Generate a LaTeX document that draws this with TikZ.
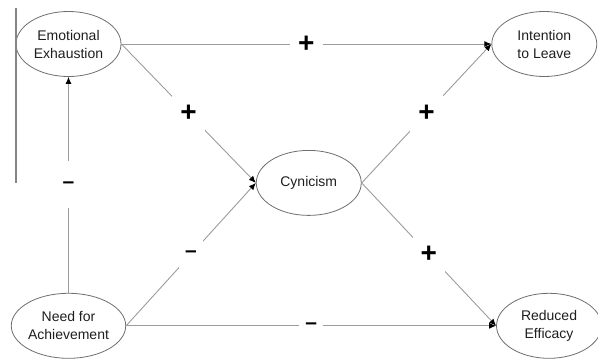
\documentclass[tikz,border=0pt]{standalone}
\usepackage{fontspec}
\setmainfont{Liberation Sans}
\usetikzlibrary{arrows.meta,positioning,calc,shapes.geometric}
\definecolor{LineGray}{HTML}{9C9C9C}
\definecolor{RimGray}{HTML}{6E6E6E}
\definecolor{BarGray}{HTML}{858585}
\definecolor{InkDark}{HTML}{1E1E1E}

\begin{document}
\begin{tikzpicture}[
  x=1pt,y=-1pt,
  node distance=216pt and 370pt,
  every node/.style={font=\fontsize{14}{18}\selectfont,align=center,text=InkDark},
  construct/.style={ellipse,draw=RimGray,line width=0.8pt,minimum width=105pt,minimum height=65pt,inner sep=0pt},
  link/.style={-{Latex[length=7pt,width=6pt,color=black]},draw=LineGray,line width=0.9pt},
  possign/.style={fill=white,text=black,font=\fontsize{28}{28}\bfseries\selectfont,inner xsep=8pt,inner ysep=0pt,minimum height=47pt},
  negsign/.style={possign,font=\fontsize{21}{21}\bfseries\selectfont,inner xsep=6pt},
  bar/.style={draw=BarGray,line width=1.4pt}
]
\useasboundingbox (0,0) rectangle (598,361);
\node[construct] (ee) at (68.5,44) {Emotional\\Exhaustion};
\node[construct,right=of ee] (il) {Intention\\to Leave};
\node[construct,below=of ee] (na) {Need for\\Achievement};
\node[construct,right=of na] (re) {Reduced\\Efficacy};
\node[construct] (cyn) at ($(ee)!0.5!(re)+(0,-2)$) {Cynicism};
\coordinate (bartop) at (16,8);
\coordinate (barbot) at (16,183);
\draw[bar] (bartop) -- (barbot);
\draw[link] (ee.east) -- node[possign] {+} (il.west);
\draw[link] (ee.east) -- node[possign] {+} (cyn.west);
\draw[link] (cyn.east) -- node[possign] {+} (il.west);
\draw[link] (cyn.east) -- node[possign] {+} (re.west);
\draw[link] (na.east) -- node[negsign] {–} (cyn.west);
\draw[link] (na.east) -- node[negsign] {–} (re.west);
\draw[link] (na.north) -- node[negsign] {–} (ee.south);
\end{tikzpicture}
\end{document}
